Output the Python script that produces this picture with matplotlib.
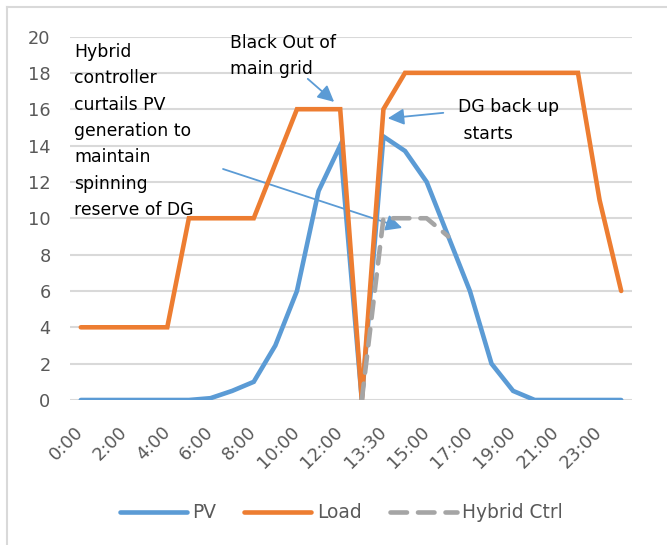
import matplotlib
matplotlib.use("Agg")
import matplotlib.pyplot as plt
import numpy as np
from matplotlib.lines import Line2D

# Time slots (category axis) and the three series
times = (
    [f"{h}:00" for h in range(13)]
    + ["13:00", "13:30", "14:00"]
    + [f"{h}:00" for h in range(15, 25)]
)
pv = [0, 0, 0, 0, 0, 0, 0.1, 0.5, 1, 3, 6, 11.5, 14, 0, 14.5, 13.7, 12, 9,
      6, 2, 0.5, 0, 0, 0, 0, 0]
load = [4, 4, 4, 4, 4, 10, 10, 10, 10, 13, 16, 16, 16, 0, 16, 18, 18, 18,
        18, 18, 18, 18, 18, 18, 11, 6]
hybrid = [np.nan] * 13 + [0, 10, 10, 10, 9] + [np.nan] * 8

C_PV = "#5B9BD5"
C_LOAD = "#ED7D31"
C_HYB = "#A5A5A5"
GRID = "#D9D9D9"
TXT = "#595959"

plt.rcParams["font.family"] = "DejaVu Sans"

fig = plt.figure(figsize=(6.67, 5.45), dpi=100)
ax = fig.add_axes([70 / 667, 1 - 400 / 545, 562 / 667, 363.5 / 545])

x = np.arange(len(times))
lw = 3.3
ax.plot(x, pv, color=C_PV, lw=lw, label="PV", solid_joinstyle="miter",
        solid_capstyle="round", zorder=3)
ax.plot(x, load, color=C_LOAD, lw=lw, label="Load", solid_joinstyle="miter",
        solid_capstyle="round", zorder=4)
ax.plot(x, hybrid, color=C_HYB, lw=lw, label="Hybrid Ctrl",
        dashes=(3.6, 2.4), dash_capstyle="round", zorder=5)

ax.set_xlim(-0.5, len(times) - 0.5)
ax.set_ylim(0, 20)
ax.set_yticks(np.arange(0, 21, 2))
ax.set_xticks(x[::2])
ax.set_xticklabels(times[::2])
ax.yaxis.grid(True, color=GRID, lw=1.5)
ax.set_axisbelow(True)
for sp in ax.spines.values():
    sp.set_visible(False)
ax.tick_params(axis="both", length=0, labelsize=12.8, labelcolor=TXT)
ax.tick_params(axis="y", pad=14)
ax.tick_params(axis="x", pad=21)
plt.setp(ax.get_xticklabels(), rotation=45, ha="right", va="center",
         rotation_mode="anchor")

# Annotations
tfs = 12.4
ls = 1.6
ax.text(-0.31, 19.65,
        "Hybrid\ncontroller\ncurtails PV\ngeneration to\nmaintain\nspinning\nreserve of DG",
        fontsize=tfs, color="black", va="top", ha="left", linespacing=ls)
ax.text(6.9, 20.15, "Black Out of\nmain grid", fontsize=tfs, color="black",
        va="top", ha="left", linespacing=ls, clip_on=False)
ax.text(17.45, 16.6, "DG back up\n starts", fontsize=tfs, color="black",
        va="top", ha="left", linespacing=ls)

arrow = dict(arrowstyle="-|>,head_length=0.7,head_width=0.35", color=C_PV,
             lw=1.3, shrinkA=0, shrinkB=0, mutation_scale=14)
ax.annotate("", xy=(11.72, 16.4), xytext=(10.5, 17.67), arrowprops=arrow)
ax.annotate("", xy=(14.2, 15.5), xytext=(16.77, 15.8), arrowprops=arrow)
ax.annotate("", xy=(14.87, 9.47), xytext=(6.58, 12.71), arrowprops=arrow)

leg = fig.legend(loc="center", bbox_to_anchor=(0.512, 0.059), ncol=3,
                 frameon=False, fontsize=13.4, handlelength=3.6,
                 handletextpad=0.3, columnspacing=1.5)
for t in leg.get_texts():
    t.set_color(TXT)

# chart-area border
fig.add_artist(Line2D([7 / 667, 7 / 667], [0, 1 - 7 / 545],
                      transform=fig.transFigure, color=GRID, lw=1.5))
fig.add_artist(Line2D([7 / 667, 1], [1 - 7 / 545, 1 - 7 / 545],
                      transform=fig.transFigure, color=GRID, lw=1.5))

fig.savefig("out.png", dpi=100)
